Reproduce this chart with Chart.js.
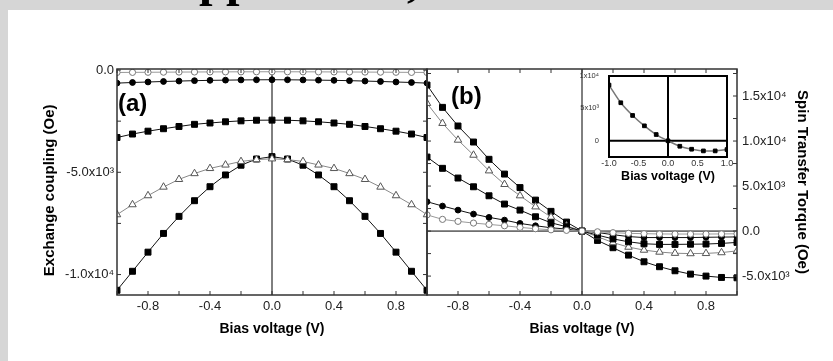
<!DOCTYPE html>
<html>
<head>
<meta charset="utf-8">
<script src="https://cdn.jsdelivr.net/npm/chart.js@4.4.1/dist/chart.umd.min.js"></script>
<style>
  html, body { margin: 0; padding: 0; }
  body { width: 833px; height: 361px; background: #d6d6d6; position: relative; overflow: hidden; }
  #sheet { position: absolute; left: 8px; top: 10px; right: 0; bottom: 0; background: #fff; }
  #banner { position: absolute; left: 0; top: 0; }
  canvas { position: absolute; left: 0; top: 0; }
</style>
</head>
<body>
<div id="sheet"></div>
<svg id="banner" width="833" height="10" viewBox="0 0 833 10">
  <text x="164" y="-4.5" font-family="Liberation Serif, Times New Roman, serif" font-weight="bold" font-size="48.6" fill="#000">Application,</text>
</svg>
<canvas id="panelA" width="833" height="361"></canvas>
<canvas id="panelB" width="833" height="361"></canvas>
<canvas id="inset" width="833" height="361"></canvas>
<script>
// bias voltage (V)
const bias = [-1.0, -0.9, -0.8, -0.7, -0.6, -0.5, -0.4, -0.3, -0.2, -0.1, 0.0,
              0.1, 0.2, 0.3, 0.4, 0.5, 0.6, 0.7, 0.8, 0.9, 1.0];

// (a) exchange coupling (Oe)
const aOpenCircle   = [-120, -115, -110, -105, -100, -96, -93, -90, -88, -86, -85,
                       -86, -88, -90, -93, -96, -100, -105, -110, -115, -120];
const aFilledCircle = [-640, -610, -585, -560, -540, -520, -505, -495, -485, -478, -475,
                       -478, -485, -495, -505, -520, -540, -560, -585, -610, -640];
const aSquareMid    = [-3300, -3130, -2990, -2870, -2760, -2655, -2590, -2530, -2485, -2455, -2450,
                       -2455, -2485, -2530, -2590, -2655, -2760, -2870, -2990, -3130, -3300];
const aTriangle     = [-7070, -6580, -6140, -5720, -5345, -5060, -4810, -4640, -4470, -4380, -4340,
                       -4380, -4470, -4640, -4810, -5060, -5345, -5720, -6140, -6580, -7070];
const aSquareSteep  = [-10770, -9840, -8905, -7990, -7155, -6390, -5705, -5130, -4655, -4350, -4235,
                       -4350, -4655, -5130, -5705, -6390, -7155, -7990, -8905, -9840, -10770];

// (b) spin transfer torque (Oe)
const bSquareSteep  = [16220, 13740, 11670, 9890, 7970, 6330, 4830, 3440, 2190, 1000, 0,
                       -1040, -1850, -2670, -3410, -3960, -4410, -4780, -5000, -5150, -5190];
const bTriangle     = [14190, 11970, 10110, 8440, 6700, 5190, 3930, 2700, 1560, 590, 0,
                       -620, -1280, -1780, -2110, -2330, -2460, -2500, -2480, -2390, -2200];
const bSquareMid    = [8220, 6970, 5890, 4920, 3920, 3000, 2330, 1590, 920, 480, 0,
                       -450, -870, -1190, -1410, -1480, -1480, -1460, -1440, -1370, -1260];
const bFilledCircle = [3260, 2780, 2330, 1890, 1520, 1220, 850, 590, 370, 220, 0,
                       -160, -400, -610, -720, -720, -720, -720, -690, -670, -650];
const bOpenCircle   = [1800, 1300, 1080, 890, 740, 590, 410, 260, 140, 80, 0,
                       -80, -180, -250, -290, -320, -330, -330, -330, -320, -300];

// inset
const insetBias   = [-1.0, -0.8, -0.6, -0.4, -0.2, 0.0, 0.2, 0.4, 0.6, 0.8, 1.0];
const insetTorque = [8600, 5870, 3910, 2310, 970, 0, -840, -1300, -1560, -1560, -1350];

// ticks
const xTicks      = [-1.0, -0.8, -0.6, -0.4, -0.2, 0.0, 0.2, 0.4, 0.6, 0.8, 1.0];
const xTickLabels = ['', '-0.8', '', '-0.4', '', '0.0', '', '0.4', '', '0.8', ''];
const yTicksA      = [0, -2500, -5000, -7500, -10000];
const yTickLabelsA = ['0.0', '', '-5.0x10³', '', '-1.0x10⁴'];
const yTicksB      = [-5000, -2500, 0, 2500, 5000, 7500, 10000, 12500, 15000, 17500];
const yTickLabelsB = ['-5.0x10³', '', '0.0', '', '5.0x10³', '', '1.0x10⁴', '', '1.5x10⁴', ''];
const insetXTicks  = [-1.0, -0.5, 0.0, 0.5, 1.0];
const insetXLabels = ['-1.0', '-0.5', '0.0', '0.5', '1.0'];
const insetYTicks  = [0, 5000, 10000];
const insetYLabels = ['0', '5x10³', '1x10⁴'];

const FONT = '"Liberation Sans", Arial, sans-serif';

// frame, inward ticks, zero lines and panel letter
const framePlugin = {
  id: 'frame',
  beforeDatasetsDraw(chart, args, o) {
    const { ctx, chartArea: a, scales: { x, y } } = chart;
    ctx.save();
    ctx.strokeStyle = '#000';
    ctx.lineWidth = o.zeroWidth;
    ctx.beginPath();
    if (o.zeroX) {
      const px = x.getPixelForValue(0);
      ctx.moveTo(px, a.top); ctx.lineTo(px, a.bottom);
    }
    if (o.zeroY) {
      const py = y.getPixelForValue(0);
      ctx.moveTo(a.left, py); ctx.lineTo(a.right, py);
    }
    ctx.stroke();
    ctx.restore();
  },
  afterDatasetsDraw(chart, args, o) {
    const { ctx, chartArea: a, scales: { x, y } } = chart;
    ctx.save();
    ctx.strokeStyle = o.color;
    ctx.lineWidth = o.width;
    ctx.strokeRect(a.left, a.top, a.right - a.left, a.bottom - a.top);
    if (o.tick) {
      ctx.lineWidth = 1;
      ctx.beginPath();
      x.ticks.forEach(t => {
        const px = x.getPixelForValue(t.value);
        ctx.moveTo(px, a.bottom); ctx.lineTo(px, a.bottom - o.tick);
        ctx.moveTo(px, a.top); ctx.lineTo(px, a.top + o.tick);
      });
      y.ticks.forEach(t => {
        const py = y.getPixelForValue(t.value);
        ctx.moveTo(a.left, py); ctx.lineTo(a.left + o.tick, py);
        ctx.moveTo(a.right, py); ctx.lineTo(a.right - o.tick, py);
      });
      ctx.stroke();
    }
    if (o.label) {
      ctx.fillStyle = '#000';
      ctx.font = 'bold 24px ' + FONT;
      ctx.textBaseline = 'middle';
      ctx.fillText(o.label, a.left + o.labelDx, a.top + o.labelDy);
    }
    ctx.restore();
  }
};

const filledSquare = { borderColor: '#111', pointStyle: 'rect', pointRadius: 4.2,
  pointBackgroundColor: '#000', pointBorderColor: '#000' };
const filledCircle = { borderColor: '#111', pointStyle: 'circle', pointRadius: 2.9,
  pointBackgroundColor: '#000', pointBorderColor: '#000' };
const openTriangle = { borderColor: '#888', pointStyle: 'triangle', pointRadius: 4.3,
  pointBackgroundColor: '#fff', pointBorderColor: '#555' };
const openCircle = { borderColor: '#999', pointStyle: 'circle', pointRadius: 3.1,
  pointBackgroundColor: '#fff', pointBorderColor: '#777' };

function series(xs, values, style) {
  return Object.assign({
    data: values.map((v, i) => ({ x: xs[i], y: v })),
    borderWidth: 1,
    pointBorderWidth: 1,
    pointHoverRadius: 0,
    tension: 0
  }, style);
}

function useTicks(values) {
  return scale => { scale.ticks = values.map(v => ({ value: v })); };
}

function xAxis(title) {
  return {
    type: 'linear', min: -1, max: 1,
    afterBuildTicks: useTicks(xTicks),
    afterFit: s => { s.height = 46; },
    grid: { display: false, drawTicks: false },
    border: { display: false },
    ticks: { autoSkip: false, maxRotation: 0, padding: 4, color: '#222',
      font: { family: FONT, size: 13 },
      callback: (v, i) => xTickLabels[i] },
    title: { display: true, text: title, color: '#000',
      font: { family: FONT, size: 14, weight: 'bold' },
      padding: { top: 0, bottom: 3.6 } }
  };
}

const commonPlugins = { legend: { display: false }, tooltip: { enabled: false } };

// panel (a)
new Chart(document.getElementById('panelA'), {
  type: 'line',
  data: {
    datasets: [
      series(bias, aOpenCircle, openCircle),
      series(bias, aFilledCircle, filledCircle),
      series(bias, aSquareMid, filledSquare),
      series(bias, aTriangle, openTriangle),
      series(bias, aSquareSteep, filledSquare)
    ]
  },
  options: {
    responsive: false,
    animation: false,
    layout: { padding: { left: 40, top: 69, right: 406, bottom: 20 } },
    plugins: Object.assign({
      frame: { color: '#333', width: 1.5, tick: 4, zeroX: true, zeroY: false, zeroWidth: 1,
        label: '(a)', labelDx: 1, labelDy: 35 }
    }, commonPlugins),
    scales: {
      x: xAxis('Bias voltage (V)'),
      y: {
        type: 'linear', min: -11000, max: 50,
        afterBuildTicks: useTicks(yTicksA),
        afterFit: s => { s.width = 77; },
        grid: { display: false, drawTicks: false },
        border: { display: false },
        ticks: { autoSkip: false, padding: 3, color: '#222',
          font: { family: FONT, size: 13 },
          callback: (v, i) => yTickLabelsA[i] },
        title: { display: true, text: 'Exchange coupling (Oe)\u00a0\u00a0\u00a0\u00a0', color: '#000',
          font: { family: FONT, size: 15, weight: 'bold' },
          padding: { top: 1, bottom: 0 } }
      }
    }
  },
  plugins: [framePlugin]
});

// panel (b)
new Chart(document.getElementById('panelB'), {
  type: 'line',
  data: {
    datasets: [
      series(bias, bOpenCircle, openCircle),
      series(bias, bFilledCircle, filledCircle),
      series(bias, bSquareMid, filledSquare),
      series(bias, bTriangle, openTriangle),
      series(bias, bSquareSteep, filledSquare)
    ]
  },
  options: {
    responsive: false,
    animation: false,
    layout: { padding: { left: 427, top: 69, right: 20, bottom: 20 } },
    plugins: Object.assign({
      frame: { color: '#333', width: 1.5, tick: 4, zeroX: true, zeroY: true, zeroWidth: 1,
        label: '(b)', labelDx: 24, labelDy: 28.5 }
    }, commonPlugins),
    scales: {
      x: xAxis('Bias voltage (V)'),
      y: {
        type: 'linear', position: 'right', min: -7100, max: 18000,
        afterBuildTicks: useTicks(yTicksB),
        afterFit: s => { s.width = 76; },
        grid: { display: false, drawTicks: false },
        border: { display: false },
        ticks: { autoSkip: false, padding: 5, color: '#222',
          font: { family: FONT, size: 13 },
          callback: (v, i) => yTickLabelsB[i] },
        title: { display: true, text: 'Spin Transfer Torque (Oe)', color: '#000',
          font: { family: FONT, size: 15, weight: 'bold' },
          padding: { top: 2, bottom: 0 } }
      }
    }
  },
  plugins: [framePlugin]
});

// inset of (b)
new Chart(document.getElementById('inset'), {
  type: 'line',
  data: {
    datasets: [
      series(insetBias, insetTorque, { borderColor: '#777', borderWidth: 1.5,
        tension: 0.4, cubicInterpolationMode: 'monotone',
        pointStyle: 'rect', pointRadius: 2.6,
        pointBackgroundColor: '#000', pointBorderColor: '#000' })
    ]
  },
  options: {
    responsive: false,
    animation: false,
    layout: { padding: { left: 560, top: 76, right: 106, bottom: 175 } },
    plugins: Object.assign({
      frame: { color: '#000', width: 2, tick: 0, zeroX: true, zeroY: true, zeroWidth: 2 }
    }, commonPlugins),
    scales: {
      x: {
        type: 'linear', min: -1, max: 1,
        afterBuildTicks: useTicks(insetXTicks),
        afterFit: s => { s.height = 29; },
        grid: { display: false, drawTicks: false },
        border: { display: false },
        ticks: { autoSkip: false, maxRotation: 0, padding: 1.6, color: '#333',
          font: { family: FONT, size: 9 },
          callback: (v, i) => insetXLabels[i] },
        title: { display: true, text: 'Bias voltage (V)', color: '#000',
          font: { family: FONT, size: 12.5, weight: 'bold' },
          padding: { top: 0, bottom: 1.8 } }
      },
      y: {
        type: 'linear', min: -2500, max: 10000,
        afterBuildTicks: useTicks(insetYTicks),
        afterFit: s => { s.width = 49; },
        grid: { display: false, drawTicks: false },
        border: { display: false },
        ticks: { autoSkip: false, padding: 10, color: '#333',
          font: { family: FONT, size: 7.5 },
          callback: (v, i) => insetYLabels[i] }
      }
    }
  },
  plugins: [framePlugin]
});
</script>
</body>
</html>
